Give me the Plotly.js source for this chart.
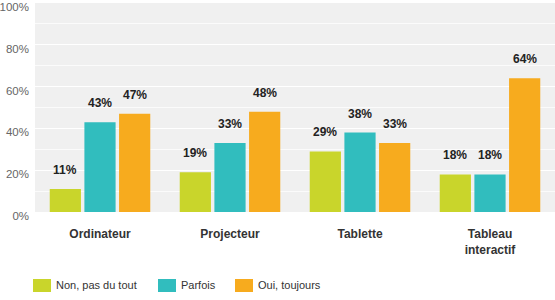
<!DOCTYPE html>
<html>
<head>
<meta charset="utf-8">
<script src="https://cdn.plot.ly/plotly-3.0.1.min.js"></script>
<style>html,body{margin:0;padding:0;background:#fff}#chart{width:555px;height:300px}</style>
</head>
<body>
<div id="chart"></div>
<script>
const categories = ["Ordinateur", "Projecteur", "Tablette", "Tableau<br>interactif"];
const seriesNames = ["Non, pas du tout", "Parfois", "Oui, toujours"];
const nonValues = [11, 19, 29, 18];
const parfoisValues = [43, 33, 38, 18];
const ouiValues = [47, 48, 33, 64];
const yTickVals = [0, 20, 40, 60, 80, 100];
const yTickText = ["0%", "20%", "40%", "60%", "80%", "100%"];

const colors = ["#c9d52b", "#31bdbe", "#f7ab1e"];
const allValues = [nonValues, parfoisValues, ouiValues];
const FONT = "Liberation Sans, Arial, sans-serif";

const traces = allValues.map((vals, i) => ({
  type: "bar",
  name: seriesNames[i],
  x: categories,
  y: vals,
  marker: {color: colors[i]},
  hoverinfo: "skip",
  showlegend: false
}));

// plot area geometry (pixels)
const W = 555, H = 300, ML = 35, MR = 0, MT = 3, MB = 88;
const PW = W - ML - MR, PH = H - MT - MB;
const px2x = p => (p - ML) / PW;
const px2y = p => 1 - (p - MT) / PH;

const slot = (PW / categories.length) * 0.8 / 3;
const annotations = [];
allValues.forEach((vals, i) => {
  vals.forEach((v, j) => {
    annotations.push({
      x: categories[j], y: v, xref: "x", yref: "y",
      text: v + "%", showarrow: false,
      xshift: (i - 1) * slot, yshift: 10, yanchor: "bottom",
      font: {family: FONT, size: 12, color: "#222", weight: "bold"}
    });
  });
});

// custom legend
const legendX = [33, 158, 235];
const shapes = [];
seriesNames.forEach((name, i) => {
  shapes.push({
    type: "rect", xref: "paper", yref: "paper",
    x0: px2x(legendX[i]), x1: px2x(legendX[i] + 18),
    y0: px2y(292), y1: px2y(279),
    fillcolor: colors[i], line: {width: 0}, layer: "above"
  });
  annotations.push({
    xref: "paper", yref: "paper",
    x: px2x(legendX[i] + 21), y: px2y(284.5),
    xanchor: "left", yanchor: "middle", showarrow: false,
    text: name,
    font: {family: FONT, size: 11, color: "#333"}
  });
});

const layout = {
  width: W, height: H,
  margin: {l: ML, r: MR, t: MT, b: MB},
  paper_bgcolor: "#ffffff",
  plot_bgcolor: "#f0f0f0",
  barmode: "group",
  bargap: 0.2,
  bargroupgap: 0.1,
  showlegend: false,
  xaxis: {
    type: "category",
    showgrid: false, zeroline: false, showline: false,
    ticks: "outside", ticklen: 11, tickcolor: "rgba(0,0,0,0)",
    tickfont: {family: FONT, size: 12, color: "#333", weight: "bold"},
    fixedrange: true
  },
  yaxis: {
    range: [0, 100],
    tickvals: yTickVals, ticktext: yTickText,
    showgrid: true, gridcolor: "#ffffff", gridwidth: 1,
    minor: {dtick: 10, showgrid: true, gridcolor: "#fbfbfb", gridwidth: 1},
    zeroline: false, showline: false,
    ticks: "",
    ticklabelstandoff: 5,
    ticklabelshift: 4,
    ticklabeloverflow: "allow",
    tickfont: {family: FONT, size: 11.5, color: "#666"},
    fixedrange: true
  },
  shapes: shapes,
  annotations: annotations
};

Plotly.newPlot("chart", traces, layout, {displayModeBar: false, staticPlot: true});
</script>
</body>
</html>
